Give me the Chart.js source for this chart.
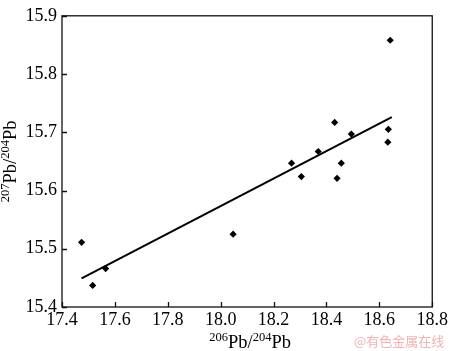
<!DOCTYPE html>
<html><head><meta charset="utf-8">
<script src="https://cdn.jsdelivr.net/npm/chart.js@4/dist/chart.umd.min.js"></script>
<style>
html,body{margin:0;padding:0;background:#fff;}
#wrap{position:relative;width:450px;height:351px;}
#wm{position:absolute;left:354px;top:333px;font-family:"Noto Sans CJK SC";font-size:13px;color:#f3b3b3;white-space:nowrap;line-height:16px;}
</style></head>
<body>
<div id="wrap"><canvas id="c" width="450" height="351"></canvas><div id="wm">@有色金属在线</div></div>
<script>
const xValues = [17.474, 17.516, 17.565, 18.047, 18.268, 18.305, 18.369, 18.431, 18.440, 18.456, 18.494, 18.634, 18.632, 18.641];
const yValues = [15.511, 15.437, 15.466, 15.525, 15.647, 15.624, 15.667, 15.717, 15.621, 15.647, 15.697, 15.705, 15.683, 15.858];
const fitX = [17.474, 18.647];
const fitY = [15.449, 15.726];
const xTickLabels = ['17.4','17.6','17.8','18.0','18.2','18.4','18.6','18.8'];
const yTickLabels = ['15.4','15.5','15.6','15.7','15.8','15.9'];
const xTitle = [['206', true], ['Pb/', false], ['204', true], ['Pb', false]];
const yTitle = [['207', true], ['Pb/', false], ['204', true], ['Pb', false]];

const FONT = '"Liberation Serif", "Times New Roman", serif';

function drawRich(ctx, parts, cx, baseline) {
  const big = '18.5px ' + FONT, small = '12.5px ' + FONT;
  let w = 0;
  parts.forEach(p => { ctx.font = p[1] ? small : big; w += ctx.measureText(p[0]).width; });
  let x = cx - w / 2;
  ctx.textAlign = 'left';
  ctx.textBaseline = 'alphabetic';
  parts.forEach(p => {
    ctx.font = p[1] ? small : big;
    ctx.fillText(p[0], x, baseline + (p[1] ? -7 : 0));
    x += ctx.measureText(p[0]).width;
  });
}

const framePlugin = {
  id: 'frame',
  afterDraw(chart) {
    const ctx = chart.ctx, a = chart.chartArea;
    const xs = chart.scales.x, ys = chart.scales.y;
    ctx.save();
    ctx.strokeStyle = '#111';
    ctx.lineWidth = 1.3;
    ctx.strokeRect(a.left, a.top, a.right - a.left, a.bottom - a.top);
    ctx.beginPath();
    xs.ticks.forEach(t => {
      const px = Math.round(xs.getPixelForValue(t.value)) + 0.5;
      ctx.moveTo(px, a.bottom); ctx.lineTo(px, a.bottom - 5);
    });
    ys.ticks.forEach(t => {
      const py = Math.round(ys.getPixelForValue(t.value)) + 0.5;
      ctx.moveTo(a.left, py); ctx.lineTo(a.left + 5, py);
    });
    ctx.stroke();
    ctx.fillStyle = '#000';
    drawRich(ctx, xTitle, (a.left + a.right) / 2 + 3, 348);
    ctx.save();
    ctx.translate(16, (a.top + a.bottom) / 2);
    ctx.rotate(-Math.PI / 2);
    drawRich(ctx, yTitle, 0, 0);
    ctx.restore();
    ctx.restore();
  }
};

new Chart(document.getElementById('c'), {
  type: 'scatter',
  data: {
    datasets: [
      {
        data: xValues.map((x, i) => ({x: x, y: yValues[i]})),
        pointStyle: 'rectRot',
        pointRadius: 3.6,
        backgroundColor: '#000',
        borderColor: '#000',
        borderWidth: 0,
        showLine: false
      },
      {
        data: fitX.map((x, i) => ({x: x, y: fitY[i]})),
        showLine: true,
        pointRadius: 0,
        borderColor: '#000',
        borderWidth: 2,
        fill: false
      }
    ]
  },
  options: {
    responsive: false,
    animation: false,
    events: [],
    layout: {padding: {top: 7, right: 15, left: 0, bottom: 0}},
    plugins: {legend: {display: false}, tooltip: {enabled: false}},
    scales: {
      x: {
        type: 'linear', min: 17.4, max: 18.8,
        afterBuildTicks(s) { s.ticks = xTickLabels.map(v => ({value: parseFloat(v)})); },
        ticks: {
          callback: (v) => v.toFixed(1),
          color: '#000', font: {family: FONT, size: 18}, padding: 2, maxRotation: 0, autoSkip: false
        },
        grid: {display: false, drawTicks: false},
        border: {display: false},
        afterFit(s) { s.height = 44; }
      },
      y: {
        type: 'linear', min: 15.4, max: 15.9,
        afterBuildTicks(s) { s.ticks = yTickLabels.map(v => ({value: parseFloat(v)})); },
        ticks: {
          callback: (v) => v.toFixed(1),
          color: '#000', font: {family: FONT, size: 18}, padding: 5, autoSkip: false
        },
        grid: {display: false, drawTicks: false},
        border: {display: false},
        afterFit(s) { s.width = 62; }
      }
    }
  },
  plugins: [framePlugin]
});
</script>
</body></html>
